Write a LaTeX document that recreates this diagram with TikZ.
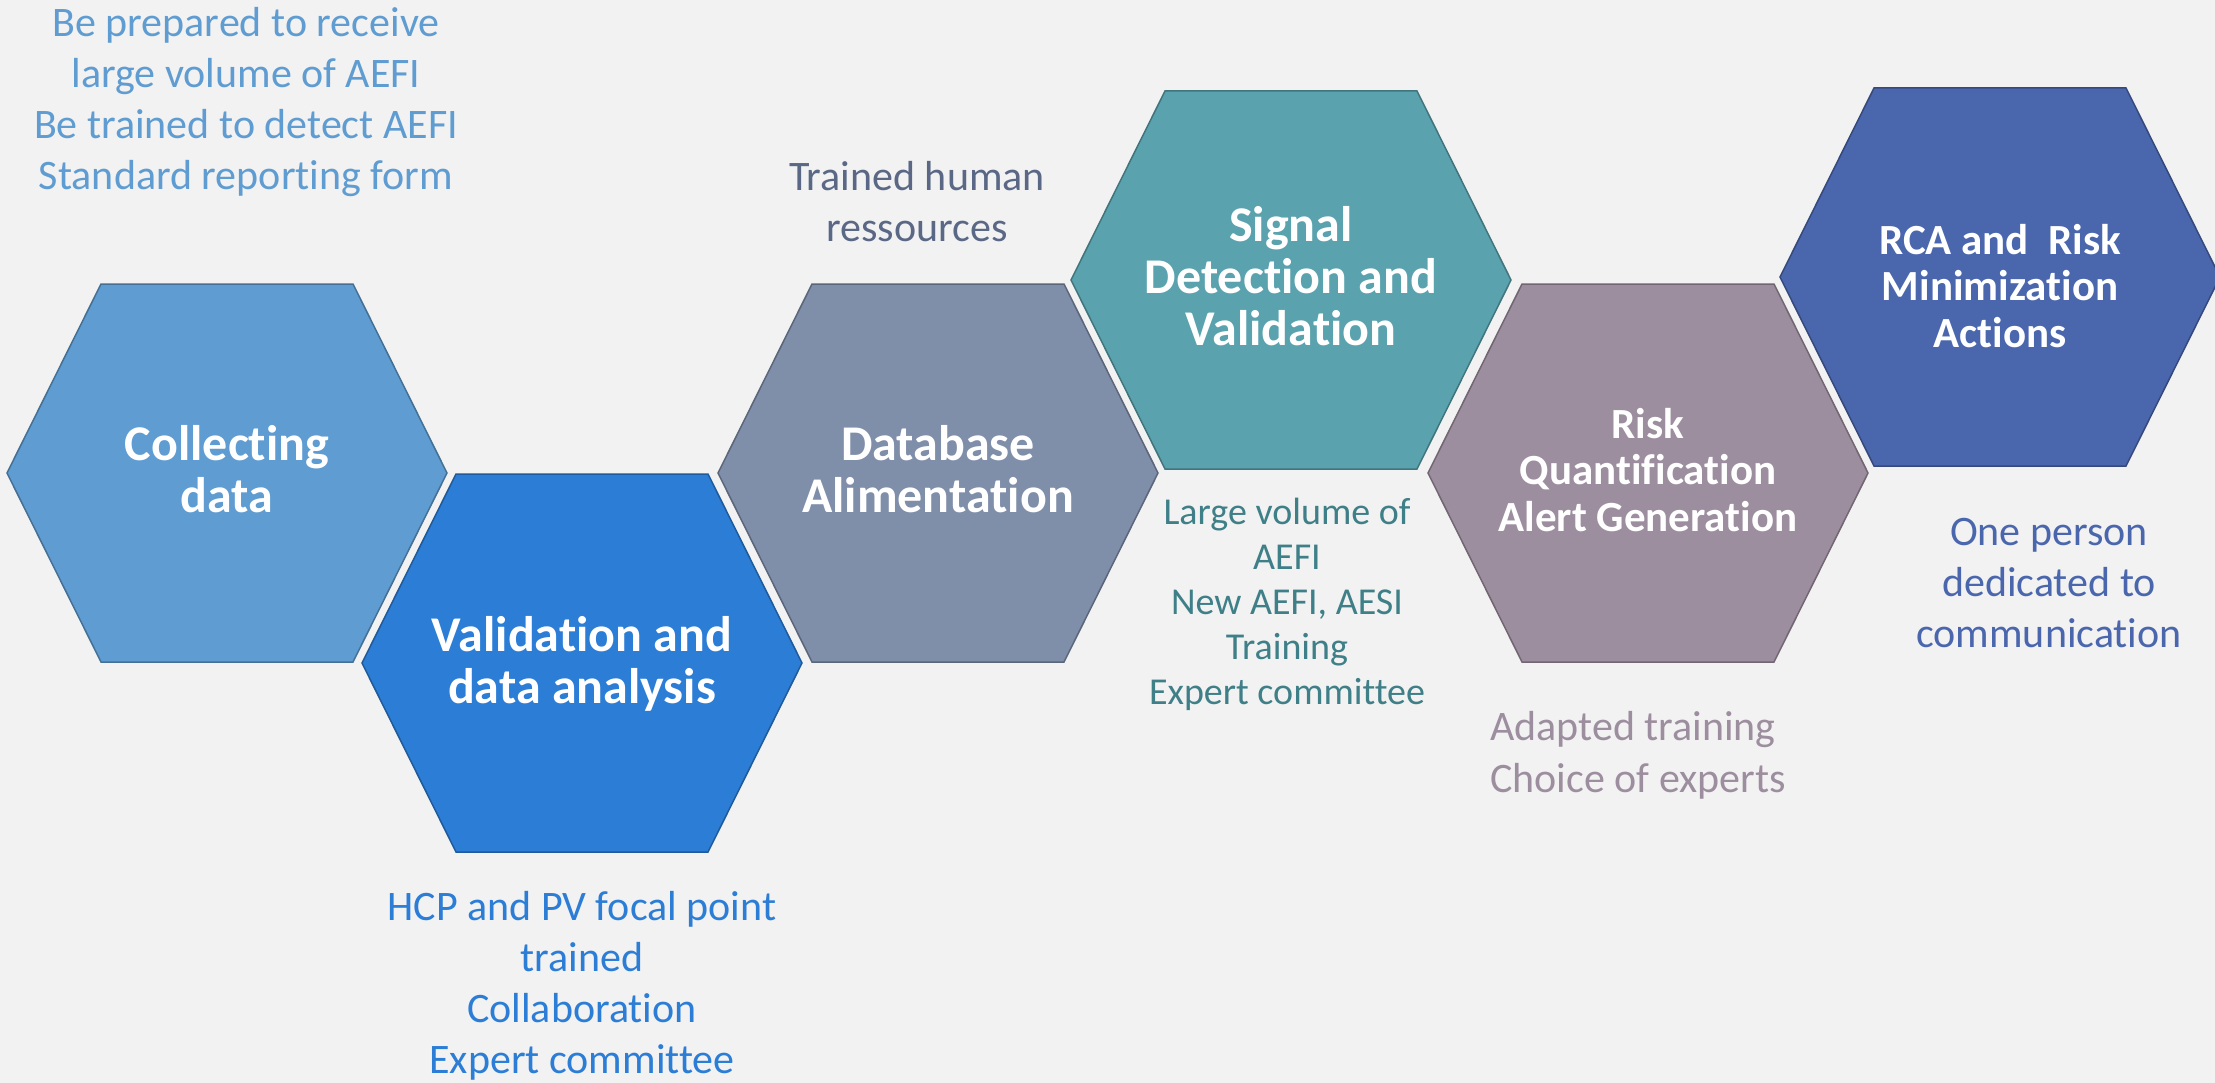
\documentclass[tikz,border=0pt]{standalone}
\usepackage{tikz}
\usepackage{fontspec}
\setmainfont{Carlito}[Ligatures=CommonOff]

\definecolor{bgcol}{HTML}{F2F2F2}
\definecolor{collectcol}{HTML}{5F9CD1}
\definecolor{validcol}{HTML}{2B7DD6}
\definecolor{dbcol}{HTML}{7F8EA9}
\definecolor{signalcol}{HTML}{5AA2AE}
\definecolor{riskcol}{HTML}{9D8E9F}
\definecolor{rcacol}{HTML}{4A66AD}
\definecolor{trainedcol}{HTML}{5A6886}
\definecolor{volumecol}{HTML}{3F7F88}

\begin{document}
\begin{tikzpicture}[x=1pt, y=1pt,
		hexa/.style={line width=1.5pt, line join=miter, fill=#1, draw=#1!72!black},
		hexlabel/.style={anchor=base, align=center, text=white, font=\bfseries\fontsize{50}{52}\selectfont},
		hexsmall/.style={anchor=base, align=center, text=white, font=\bfseries\fontsize{43}{46.5}\selectfont},
		remark/.style={anchor=base, align=center, text=#1, font=\fontsize{42}{51}\selectfont}]
		\tikzstyle{every node}+=[inner sep=0pt]
		\fill [bgcol] (0,0) rectangle (2215,-1083);
		\useasboundingbox (0,0) rectangle (2215,-1083);
		\draw [hexa=collectcol] (227,-473) ++(-220,0) -- ++(94,189) -- ++(252,0) -- ++(94,-189) -- ++(-94,-189) -- ++(-252,0) -- cycle;
		\draw (227,-512) node (collect) [hexlabel] {Collecting\\data};
		\draw [hexa=validcol] (582,-663) ++(-220,0) -- ++(94,189) -- ++(252,0) -- ++(94,-189) -- ++(-94,-189) -- ++(-252,0) -- cycle;
		\draw (582,-703) node (valid) [hexlabel] {Validation and\\data analysis};
		\draw [hexa=dbcol] (938,-473) ++(-220,0) -- ++(94,189) -- ++(252,0) -- ++(94,-189) -- ++(-94,-189) -- ++(-252,0) -- cycle;
		\draw (938,-512) node (database) [hexlabel] {Database\\Alimentation};
		\draw [hexa=signalcol] (1291,-280) ++(-220,0) -- ++(94,189) -- ++(252,0) -- ++(94,-189) -- ++(-94,-189) -- ++(-252,0) -- cycle;
		\draw (1291,-345) node (signal) [hexlabel] {Signal\\Detection and\\Validation};
		\draw [hexa=riskcol] (1648,-473) ++(-220,0) -- ++(94,189) -- ++(252,0) -- ++(94,-189) -- ++(-94,-189) -- ++(-252,0) -- cycle;
		\draw (1648,-531) node (riskq) [hexsmall] {Risk\\Quantification\\Alert Generation};
		\draw [hexa=rcacol] (2000,-277) ++(-220,0) -- ++(94,189) -- ++(252,0) -- ++(94,-189) -- ++(-94,-189) -- ++(-252,0) -- cycle;
		\draw (2000,-347) node (rca) [hexsmall] {RCA and\ \ Risk\\Minimization\\Actions};
		\draw (246,-190) node (prepared) [remark=collectcol] {Be prepared to receive\\large volume of AEFI\\Be trained to detect AEFI\\Standard reporting form};
		\draw (582,-1073) node (focal) [remark=validcol] {HCP and PV focal point\\trained\\Collaboration\\Expert committee};
		\draw (917,-242) node (human) [remark=trainedcol] {Trained human\\ressources};
		\draw (1287,-704) node (volume) [remark=volumecol, font=\fontsize{38}{45}\selectfont] {Large volume of\\AEFI\\New AEFI, AESI\\Training\\Expert committee};
		\draw (1490,-792) node (experts) [remark=riskcol, anchor=base west, align=left, font=\fontsize{42}{52}\selectfont] {Adapted training\\Choice of experts};
		\draw (2049,-647) node (person) [remark=rcacol] {One person\\dedicated to\\communication};
	\end{tikzpicture}
\end{document}
